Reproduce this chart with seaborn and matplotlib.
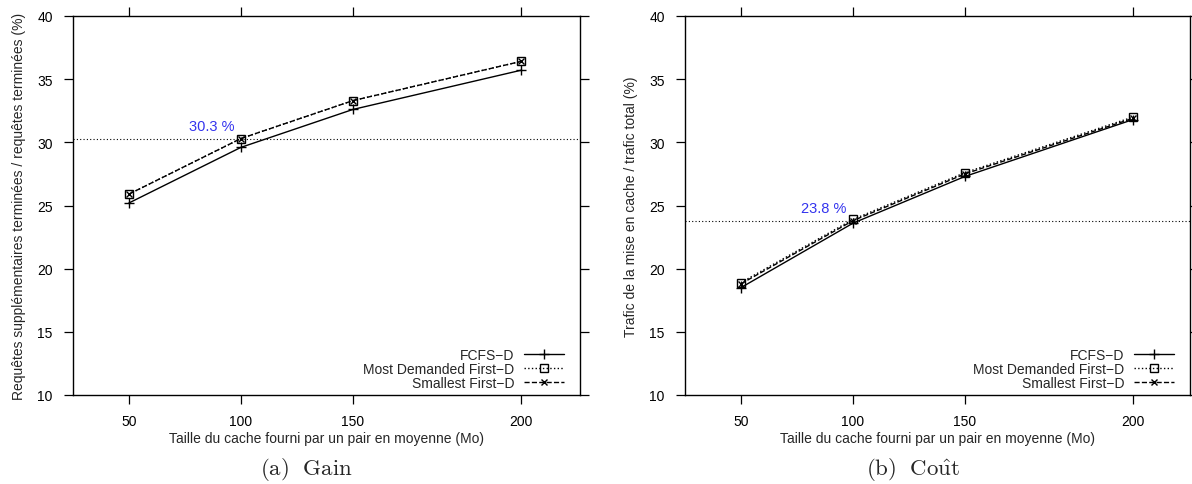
import matplotlib
matplotlib.use("Agg")
import matplotlib.pyplot as plt
import seaborn as sns
import pandas as pd

# Cache sizes (Mo): tick positions on the axis and their labels
x_pos = [50, 100, 150, 225]
x_labels = ["50", "100", "150", "200"]

series_names = ["FCFS\u2212D", "Most Demanded First\u2212D", "Smallest First\u2212D"]

# (a) Gain: extra completed requests / completed requests (%)
gain_fcfs = [25.2, 29.6, 32.6, 35.7]
gain_mdf = [25.9, 30.3, 33.3, 36.4]
gain_sf = [25.9, 30.3, 33.3, 36.4]
gain_ref = 30.3

# (b) Cost: caching traffic / total traffic (%)
cost_fcfs = [18.5, 23.6, 27.3, 31.8]
cost_mdf = [18.9, 23.9, 27.6, 32.0]
cost_sf = [18.8, 23.8, 27.5, 31.9]
cost_ref = 23.8

sns.set_style("white")
plt.rcParams["font.family"] = ["Liberation Sans", "DejaVu Sans"]
plt.rcParams["mathtext.fontset"] = "cm"
FS = 10
W, H = 1192, 485

styles = {
    series_names[0]: dict(linestyle="-", marker="+", ms=6.5, mfc="black", mew=1.0),
    series_names[1]: dict(linestyle=":", marker="s", ms=6, mfc="none", mew=1.0),
    series_names[2]: dict(linestyle="--", marker="x", ms=5, mfc="black", mew=1.0),
}

fig = plt.figure(figsize=(W / 100, H / 100), dpi=100)
ax_a = fig.add_axes([73 / W, (H - 396) / H, 507 / W, 379 / H])
ax_b = fig.add_axes([685 / W, (H - 396) / H, 505 / W, 379 / H])


def draw_panel(ax, values, ref, ylabel, caption, cap_x, xlim):
    df = pd.DataFrame({
        "x": x_pos * 3,
        "y": values[0] + values[1] + values[2],
        "s": sum([[n] * 4 for n in series_names], []),
    })
    for name in series_names:
        sub = df[df["s"] == name]
        st = styles[name]
        sns.lineplot(data=sub, x="x", y="y", ax=ax, color="black", lw=1.0,
                     linestyle=st["linestyle"], marker=st["marker"],
                     markersize=st["ms"], markerfacecolor=st["mfc"],
                     markeredgecolor="black", markeredgewidth=st["mew"],
                     label=name, zorder=3)
    ax.axhline(ref, color="black", lw=0.8, linestyle=(0, (1, 2)), zorder=2)
    ax.text(87, ref + 0.45, f"{ref} %", color="#3333ee", ha="center",
            va="bottom", fontsize=FS + 0.5)
    ax.set_xlim(*xlim)
    ax.set_ylim(10, 40)
    ax.set_xticks(x_pos)
    ax.set_xticklabels(x_labels)
    ax.set_yticks([10, 15, 20, 25, 30, 35, 40])
    ax.tick_params(direction="out", length=6.5, width=0.9, top=True,
                   right=True, bottom=True, left=True, labelsize=FS,
                   colors="black")
    ax.tick_params(axis="y", pad=8)
    ax.tick_params(axis="x", pad=7)
    for sp in ax.spines.values():
        sp.set_color("black")
        sp.set_linewidth(1.0)
    ax.set_xlabel("Taille du cache fourni par un pair en moyenne (Mo)",
                  fontsize=FS, labelpad=2)
    ax.set_ylabel(ylabel, fontsize=FS, labelpad=8)
    w_px = ax.get_position().width * W
    ax.legend(loc="lower right", bbox_to_anchor=(1 - 16 / w_px, 0.013),
              markerfirst=False, frameon=False, fontsize=FS,
              handlelength=2.9, handletextpad=0.7, labelspacing=0.02,
              borderpad=0, borderaxespad=0)
    fig.text(cap_x, (H - 470) / H, caption, ha="center", va="center",
             fontsize=16.5)


draw_panel(ax_a, [gain_fcfs, gain_mdf, gain_sf], gain_ref,
           "Requêtes supplémentaires terminées / requêtes terminées (%)",
           r"$\mathrm{(a)\ \ Gain}$", 306 / W, (25, 251.5))
draw_panel(ax_b, [cost_fcfs, cost_mdf, cost_sf], cost_ref,
           "Trafic de la mise en cache / trafic total (%)",
           r"$\mathrm{(b)\ \ Co\hat{u}t}$", 913 / W, (25, 250.5))

fig.savefig("out.png", dpi=100)
